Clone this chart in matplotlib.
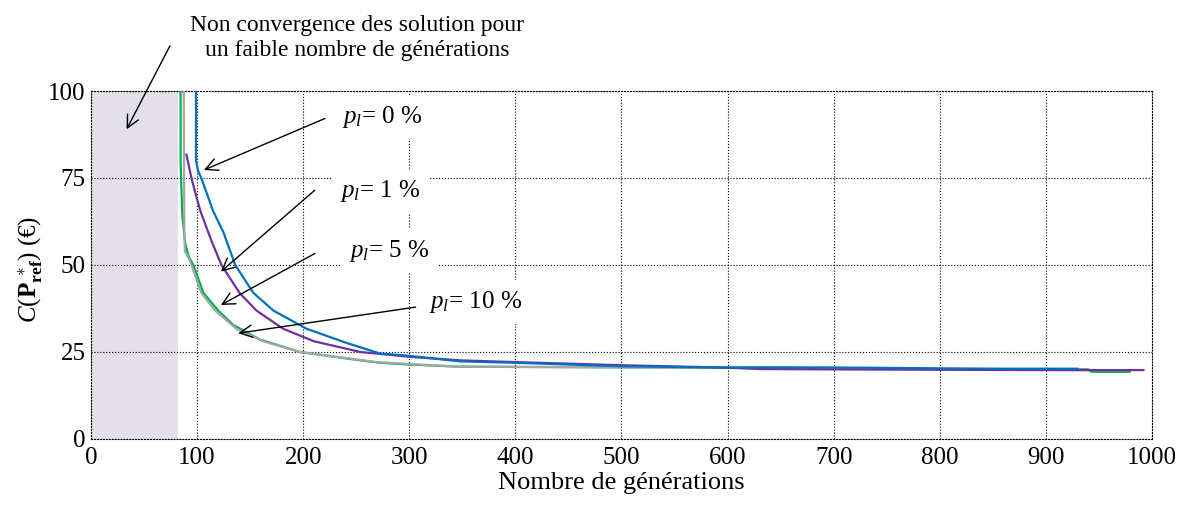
import matplotlib
matplotlib.use('Agg')
import matplotlib.pyplot as plt

# generations (x) and cost C(P_ref*) in euros (y)
gen_p0 = [99, 99, 101, 104, 115, 125, 136, 153, 172, 203, 241, 272, 300, 348, 400, 500, 600, 630, 725, 800, 860, 930]
cost_p0 = [100, 80, 77, 75, 65.6, 59.3, 50, 42, 36.9, 31.7, 27.6, 24.6, 23.9, 22.3, 21.9, 20.9, 20.5, 20.6, 20.5, 20.3, 20.2, 20.2]

gen_p1 = [90, 95, 103, 114, 123, 140, 156, 181, 210, 254, 301, 348, 400, 500, 600, 630, 700, 800, 900, 992]
cost_p1 = [81.7, 74.6, 65.6, 56.6, 50, 42, 36.9, 31.7, 28.1, 25, 23.6, 22.6, 22.1, 21.2, 20.5, 20.1, 20.0, 19.9, 19.8, 19.8]

gen_p5 = [84.5, 84.5, 86, 88.6, 92, 96.4, 106, 120, 134, 159, 197, 254, 272, 300, 345, 400, 500, 600, 700, 800, 940, 943, 979]
cost_p5 = [100, 79.3, 65, 56.6, 52.5, 50, 42, 36.9, 32.8, 28.6, 25, 22.6, 21.9, 21.4, 20.8, 20.7, 20.6, 20.5, 20.4, 20.1, 20.0, 19.3, 19.3]

gen_p10 = [87.5, 88, 88.5, 93.3, 104, 117, 137, 162, 197, 269, 345, 500, 700, 930, 980]
cost_p10 = [100, 60, 54, 51.2, 42, 36.9, 31.7, 28.1, 25, 22.1, 20.8, 20.6, 20.3, 19.8, 19.8]

x_ticks = [0, 100, 200, 300, 400, 500, 600, 700, 800, 900, 1000]
y_ticks = [0, 25, 50, 75, 100]
zone_end = 82

plt.rcParams['font.family'] = ['Liberation Serif', 'DejaVu Serif']
plt.rcParams['mathtext.fontset'] = 'custom'
plt.rcParams['mathtext.rm'] = 'Liberation Serif'
plt.rcParams['mathtext.it'] = 'Liberation Serif:italic'
plt.rcParams['mathtext.bf'] = 'Liberation Serif:bold'

fig = plt.figure(figsize=(11.92, 5.05), dpi=100)
ax = fig.add_axes([0.0763, 0.1307, 0.8901, 0.6891])

ax.axvspan(0, zone_end, color='#e3dfeb', lw=0, zorder=0)

ax.plot(gen_p5, cost_p5, color='#00b050', lw=1.6, zorder=3)
ax.plot(gen_p10, cost_p10, color='#a6a6a6', lw=1.6, zorder=3.5)
ax.plot(gen_p1, cost_p1, color='#7030a0', lw=1.6, zorder=4)
ax.plot(gen_p0, cost_p0, color='#0070c0', lw=1.6, zorder=5)

ax.set_xlim(0, 1000)
ax.set_ylim(0, 100)
ax.set_xticks(x_ticks)
ax.set_yticks(y_ticks)
ax.grid(True, color='black', linestyle=':', linewidth=0.8)
ax.set_axisbelow(True)
for s in ax.spines.values():
    s.set_linestyle(':')
    s.set_linewidth(0.8)
ax.tick_params(axis='both', length=0, labelsize=18)
ax.tick_params(axis='x', pad=6)
ax.tick_params(axis='y', pad=4)

ax.set_xlabel('Nombre de générations', fontsize=19, labelpad=2)
ax.set_ylabel(r'$\mathit{C}(\mathbf{P}_{\mathbf{ref}}^{\ \ast})$ (€)', fontsize=18)
ax.yaxis.set_label_coords(-0.043, 0.487)

arr = dict(arrowstyle='->', color='black', lw=1.0, mutation_scale=22, shrinkA=0, shrinkB=0)
box = dict(boxstyle='square,pad=0.35', fc='white', ec='none')

# labels of the four curves
ax.text(275, 92.4, r'$p_l$= 0 %', fontsize=18, ha='center', va='center', bbox=box, zorder=6)
ax.text(273, 71.3, r'$p_l$= 1 %', fontsize=18, ha='center', va='center', bbox=box, zorder=6)
ax.text(281, 54.0, r'$p_l$= 5 %', fontsize=18, ha='center', va='center', bbox=box, zorder=6)
ax.text(362, 39.4, r'$p_l$= 10 %', fontsize=18, ha='center', va='center', bbox=box, zorder=6)

ax.annotate('', xy=(106.5, 77.3), xytext=(220.5, 92.1), arrowprops=arr, zorder=7)
ax.annotate('', xy=(122.5, 48.1), xytext=(211, 71.5), arrowprops=arr, zorder=7)
ax.annotate('', xy=(122.5, 38.5), xytext=(211, 53.3), arrowprops=arr, zorder=7)
ax.annotate('', xy=(138.8, 30.4), xytext=(306, 37.9), arrowprops=arr, zorder=7)

# zone of non convergence
ax.annotate('', xy=(33.6, 89), xytext=(74.5, 113), arrowprops=arr,
            annotation_clip=False, zorder=7)
fig.text(0.2995, 0.925, 'Non convergence des solution pour\nun faible nombre de générations',
         fontsize=17, ha='center', va='center', multialignment='center', linespacing=1.25)

fig.savefig('out.png', dpi=100)
